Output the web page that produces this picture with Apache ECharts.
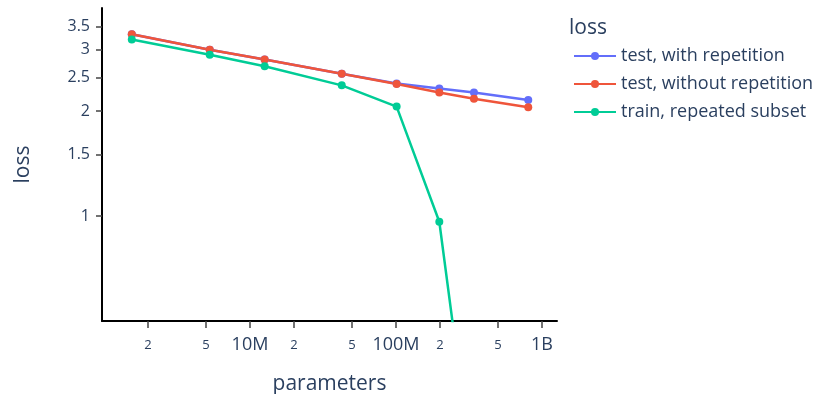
<!DOCTYPE html>
<html>
<head>
<meta charset="utf-8">
<script src="https://cdn.jsdelivr.net/npm/echarts@6/dist/echarts.min.js"></script>
<style>html,body{margin:0;padding:0;background:#fff;}#chart{width:821px;height:394px;}</style>
</head>
<body>
<div id="chart"></div>
<script>
const parameters = [1.55e6, 5.3e6, 12.6e6, 42.5e6, 101e6, 198e6, 342e6, 805e6];
const testWithRepetition = [3.32, 3.00, 2.81, 2.56, 2.40, 2.32, 2.26, 2.15];
const testWithoutRepetition = [3.32, 3.00, 2.81, 2.56, 2.39, 2.26, 2.17, 2.05];
const trainRepeatedSubset = [3.21, 2.90, 2.69, 2.37, 2.06, 0.963, 0.17];
const xTickValues = [2e6, 5e6, 1e7, 2e7, 5e7, 1e8, 2e8, 5e8, 1e9];
const xTickLabels = ['2', '5', '10M', '2', '5', '100M', '2', '5', '1B'];
const yTickValues = [1, 1.5, 2, 2.5, 3, 3.5];
const yTickLabels = ['1', '1.5', '2', '2.5', '3', '3.5'];

const FONT = '"Open Sans", "Noto Sans", sans-serif';
const TXT = '#2a3f5f';

function pairs(xs, ys) { return ys.map((y, i) => [xs[i], y]); }
function findLabel(vals, labs, v) {
  for (let i = 0; i < vals.length; i++) if (Math.abs(vals[i] - v) / vals[i] < 1e-6) return labs[i];
  return '';
}

const chart = echarts.init(document.getElementById('chart'), null, {renderer: 'canvas'});
const mkSeries = (name, data, color) => ({
  name, type: 'line', data, symbol: 'circle', symbolSize: 8,
  lineStyle: {width: 2.5, color}, itemStyle: {color}, clip: true, animation: false
});
chart.setOption({
  animation: false,
  textStyle: {fontFamily: FONT},
  title: {text: 'loss', left: 569, top: 18, padding: 0, textStyle: {fontFamily: FONT, fontSize: 21, fontWeight: 'normal', color: TXT}},
  legend: {
    orient: 'vertical', left: 568, top: 42, itemGap: 10, itemWidth: 42, itemHeight: 10,
    textStyle: {fontFamily: FONT, fontSize: 18, color: TXT},
    data: ['test, with repetition', 'test, without repetition', 'train, repeated subset']
  },
  grid: {left: 102, right: 264, top: 8, bottom: 73, containLabel: false, outerBoundsMode: 'none'},
  xAxis: {
    type: 'log', logBase: 10, min: 0.969e6, max: 1.267e9,
    name: 'parameters', nameLocation: 'middle', nameGap: 53,
    nameTextStyle: {fontFamily: FONT, fontSize: 21, color: TXT},
    axisLine: {show: true, onZero: false, lineStyle: {color: '#000', width: 2}},
    axisTick: {show: true, length: 7, lineStyle: {color: '#444', width: 1.5}, customValues: xTickValues},
    axisLabel: {
      customValues: xTickValues, margin: 24, color: TXT, verticalAlign: 'middle',
      formatter: v => { const l = findLabel(xTickValues, xTickLabels, v); return /[MB]/.test(l) ? '{big|' + l + '}' : '{small|' + l + '}'; },
      rich: {big: {fontFamily: FONT, fontSize: 18, color: TXT}, small: {fontFamily: FONT, fontSize: 13, color: TXT}}
    },
    splitLine: {show: false}, minorTick: {show: false}
  },
  yAxis: {
    type: 'log', logBase: 10, min: 0.5, max: 3.95,
    name: 'loss', nameLocation: 'middle', nameGap: 68, nameRotate: 90,
    nameTextStyle: {fontFamily: FONT, fontSize: 21, color: TXT},
    axisLine: {show: true, onZero: false, lineStyle: {color: '#000', width: 2}},
    axisTick: {show: true, length: 6, lineStyle: {color: '#444', width: 1.5}, customValues: yTickValues},
    axisLabel: {
      customValues: yTickValues, margin: 12, color: TXT, fontSize: 16, fontFamily: FONT,
      formatter: v => findLabel(yTickValues, yTickLabels, v)
    },
    splitLine: {show: false}, minorTick: {show: false}
  },
  series: [
    mkSeries('test, with repetition', pairs(parameters, testWithRepetition), '#636efa'),
    mkSeries('test, without repetition', pairs(parameters, testWithoutRepetition), '#ef553b'),
    mkSeries('train, repeated subset', pairs(parameters, trainRepeatedSubset), '#00cc96')
  ]
});
</script>
</body>
</html>
